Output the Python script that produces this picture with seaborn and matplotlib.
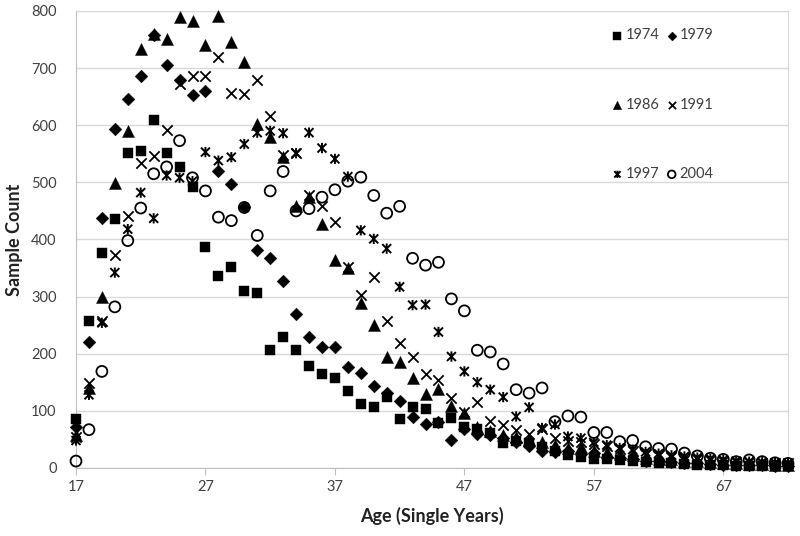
import numpy as np
import pandas as pd
import seaborn as sns
import matplotlib.pyplot as plt
from matplotlib.path import Path

# ages 17..72
ages = list(range(17, 73))

s1974 = [86, 257, 376, 435, 552, 555, 610, 552, 526, 492,
         386, 336, 352, 310, 307, 206, 229, 206, 179, 165,
         158, 134, 112, 107, 125, 86, 106, 104, 79, 87,
         72, 68, 62, 43, 47, 44, 37, 30, 22, 20,
         15, 16, 14, 12, 10, 9, 8, 7, 6, 5,
         5, 4, 4, 3, 3, 3]
s1979 = [72, 220, 437, 593, 646, 686, 758, 706, 680, 653,
         660, 519, 497, 456, 381, 367, 328, 269, 230, 211,
         211, 176, 167, 143, 131, 117, 89, 77, 80, 49,
         68, 60, 57, 52, 45, 38, 30, 28, 30, 24,
         26, 20, 18, 15, 13, 12, 11, 9, 8, 7,
         6, 6, 5, 5, 4, 4]
s1986 = [58, 140, 300, 498, 590, 733, 760, 751, 789, 783,
         740, 791, 746, 710, 603, 579, 545, 458, 475, 427,
         364, 350, 288, 251, 194, 186, 157, 130, 138, 109,
         96, 72, 64, 58, 55, 50, 45, 40, 35, 36,
         30, 28, 25, 22, 18, 16, 15, 13, 12, 10,
         9, 8, 7, 7, 6, 5]
s1991 = [55, 149, 258, 373, 441, 533, 546, 592, 672, 686,
         687, 720, 656, 655, 679, 617, 548, 552, 478, 458,
         430, 352, 303, 335, 257, 218, 195, 164, 154, 122,
         98, 115, 83, 75, 66, 60, 69, 52, 48, 45,
         42, 38, 34, 30, 25, 22, 20, 18, 16, 14,
         12, 11, 10, 9, 8, 8]
s1997 = [48, 128, 254, 342, 418, 482, 437, 512, 508, 502,
         553, 538, 544, 567, 587, 590, 586, 551, 587, 560,
         541, 510, 416, 401, 384, 317, 285, 286, 238, 195,
         169, 150, 137, 124, 90, 106, 70, 76, 55, 52,
         45, 40, 35, 32, 28, 25, 22, 20, 18, 16,
         14, 12, 11, 10, 9, 8]
s2004 = [12, 67, 169, 282, 398, 455, 515, 527, 573, 508,
         485, 439, 433, 456, 407, 485, 519, 450, 454, 474,
         487, 502, 509, 477, 446, 458, 367, 355, 360, 296,
         275, 206, 203, 182, 137, 131, 140, 81, 91, 89,
         62, 62, 46, 48, 37, 34, 33, 26, 21, 17,
         15, 11, 14, 11, 9, 8]

years = ['1974', '1979', '1986', '1991', '1997', '2004']
series = [s1974, s1979, s1986, s1991, s1997, s2004]

# asterisk marker like Excel's "star"
star = Path([(-1, -1), (1, 1), (-1, 1), (1, -1), (0, -1.15), (0, 1.15)],
            [Path.MOVETO, Path.LINETO] * 3)

styles = {
    '1974': dict(marker='s', s=62, color='black', edgecolor='black', linewidth=0.3),
    '1979': dict(marker='D', s=42, color='black', edgecolor='black', linewidth=0.3),
    '1986': dict(marker='^', s=75, color='black', edgecolor='black', linewidth=0.3),
    '1991': dict(marker='x', s=55, color='black', edgecolor='black', linewidth=1.3),
    '1997': dict(marker=star, s=55, color='black', facecolor='none', edgecolor='black', linewidth=1.4),
    '2004': dict(marker='o', s=62, color='black', facecolor='none', edgecolor='black', linewidth=1.3),
}

sns.set_style('white')
plt.rcParams['font.family'] = ['Lato', 'DejaVu Sans']

fig, ax = plt.subplots(figsize=(8, 5.36), dpi=100)
fig.subplots_adjust(left=0.095, right=0.985, top=0.9795, bottom=0.127)

for yr, vals in zip(years, series):
    sns.scatterplot(x=ages, y=vals, ax=ax, label=yr, clip_on=False, zorder=3, **styles[yr])

ax.set_xlim(17, 72)
ax.set_ylim(0, 800)
ax.set_xticks([17, 27, 37, 47, 57, 67])
ax.set_yticks(range(0, 801, 100))
ax.yaxis.grid(True, color='#d9d9d9', linewidth=1)
ax.set_axisbelow(True)
for sp in ax.spines.values():
    sp.set_color('#d9d9d9')
ax.spines['left'].set_color('#bfbfbf')
ax.spines['bottom'].set_color('#bfbfbf')
ax.tick_params(axis='x', which='major', direction='out', length=5, color='#bfbfbf',
               labelsize=10.5, labelcolor='#404040', pad=4, bottom=True)
ax.tick_params(axis='y', length=0, labelsize=10.5, labelcolor='#404040', pad=14)

ax.set_xlabel('Age (Single Years)', fontsize=13, fontweight='bold', color='#222222', labelpad=9)
ax.set_ylabel('Sample Count', fontsize=13, fontweight='bold', color='#222222', labelpad=6)

handles, labels = ax.get_legend_handles_labels()
order = [0, 2, 4, 1, 3, 5]
ax.legend([handles[i] for i in order], [labels[i] for i in order], ncol=2,
          loc='upper left', bbox_to_anchor=(0.742, 0.978), frameon=False,
          labelspacing=3.8, handlelength=0.8, handletextpad=0.15, columnspacing=0.45,
          markerscale=0.7, borderpad=0, fontsize=10.5, labelcolor='#404040')

fig.savefig('out.png', dpi=100)
